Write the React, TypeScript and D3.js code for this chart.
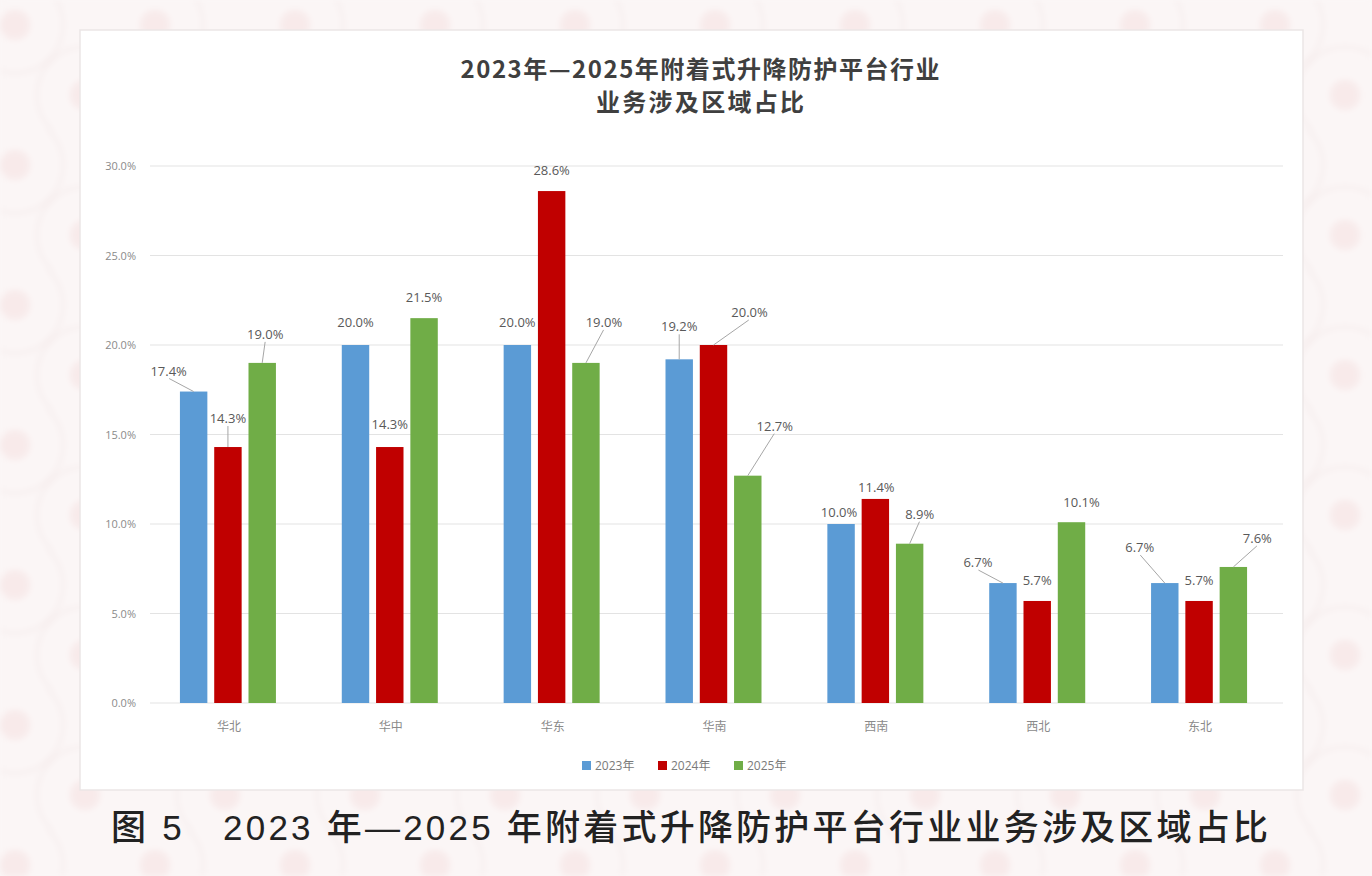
import React from "react";
import * as d3 from "d3";

// regions and yearly shares (%)
const regions = ["华北", "华中", "华东", "华南", "西南", "西北", "东北"];
const years = ["2023年", "2024年", "2025年"];
const share2023 = [17.4, 20.0, 20.0, 19.2, 10.0, 6.7, 6.7];
const share2024 = [14.3, 14.3, 28.6, 20.0, 11.4, 5.7, 5.7];
const share2025 = [19.0, 21.5, 19.0, 12.7, 8.9, 10.1, 7.6];
const yTicks = [0, 5, 10, 15, 20, 25, 30];

const seriesColors = ["#5B9BD5", "#C00000", "#70AD47"];

// hand-placed label offsets (dx, dy) from each bar's top centre, Excel style
const labelOffsets2023 = [[-25, -21], [0, -23], [0, -23], [0, -33], [-2, -12], [-25, -21], [-25, -36]];
const labelOffsets2024 = [[0, -29], [0, -23], [0, -21], [36, -33], [1, -12], [0, -21], [0, -21]];
const labelOffsets2025 = [[3, -29], [0, -21], [18, -41], [27, -50], [10, -30], [10, -20], [24, -29]];

const W = 1372;
const H = 876;
const panel = { x: 80, y: 30, w: 1223, h: 760 };
const plot = { left: 150, right: 1283, top: 166, bottom: 703 };

export default function App() {
  const series = [share2023, share2024, share2025];
  const offsets = [labelOffsets2023, labelOffsets2024, labelOffsets2025];

  const x = d3.scaleBand<string>().domain(regions).range([plot.left, plot.right]).paddingInner(0).paddingOuter(0);
  const inner = d3.scaleBand<string>().domain(years).range([-51, 45]).paddingInner(0.2).paddingOuter(0);
  const y = d3.scaleLinear().domain([0, 30]).range([plot.bottom, plot.top]);

  const fmt = (v: number) => v.toFixed(1) + "%";

  return (
    <svg width={W} height={H} style={{ position: "absolute", left: 0, top: 0 }}>
      <defs>
        <pattern id="bgpat" width="140" height="140" patternUnits="userSpaceOnUse" x="-20" y="-10">
          <rect width="140" height="140" fill="#fbf6f6" />
          <circle cx="35" cy="35" r="48" fill="none" stroke="#f4eaea" strokeWidth="2" />
          <circle cx="35" cy="35" r="15" fill="#f8eaea" />
          <circle cx="105" cy="105" r="48" fill="none" stroke="#f4eaea" strokeWidth="2" />
          <circle cx="105" cy="105" r="15" fill="#f8eaea" />
        </pattern>
        <filter id="soft">
          <feGaussianBlur stdDeviation="3" />
        </filter>
      </defs>

      <rect width={W} height={H} fill="#fbf7f7" />
      <rect width={W} height={H} fill="url(#bgpat)" filter="url(#soft)" />

      <rect x={panel.x} y={panel.y} width={panel.w} height={panel.h} fill="#ffffff" stroke="#ebe6e6" strokeWidth={1.5} />

      <text textAnchor="middle" fontFamily="'Noto Sans CJK SC', sans-serif" fontWeight={700} fontSize={24} fill="#3f3f3f">
        <tspan x={700} y={78} textLength={479}>2023年—2025年附着式升降防护平台行业</tspan>
        <tspan x={700} y={111} textLength={208}>业务涉及区域占比</tspan>
      </text>

      {yTicks.map((t) => (
        <g key={t}>
          <line x1={plot.left} x2={plot.right} y1={y(t)} y2={y(t)} stroke="#e3e3e3" strokeWidth={1.2} />
          <text x={136} y={y(t) + 4} textAnchor="end" fontFamily="'Open Sans', sans-serif" fontSize={11} fill="#8a8a8a">
            {t.toFixed(1) + "%"}
          </text>
        </g>
      ))}

      {regions.map((r, i) => {
        const cx = (x(r) as number) + x.bandwidth() / 2;
        return (
          <g key={r}>
            {series.map((s, k) => {
              const bx = cx + (inner(years[k]) as number);
              const bw = inner.bandwidth();
              const top = y(s[i]);
              const [dx, dy] = offsets[k][i];
              const lx = bx + bw / 2 + dx;
              const ly = top + dy;
              const far = Math.hypot(dx, dy) > 26;
              return (
                <g key={k}>
                  <rect x={bx} y={top} width={bw} height={plot.bottom - top} fill={seriesColors[k]} />
                  {far && (
                    <line x1={lx - dx * 0.02} y1={ly + 8} x2={bx + bw / 2} y2={top} stroke="#a6a6a6" strokeWidth={1} />
                  )}
                  <text x={lx} y={ly + 5} textAnchor="middle" fontFamily="'Open Sans', sans-serif" fontSize={13} fill="#595959">
                    {fmt(s[i])}
                  </text>
                </g>
              );
            })}
            <text x={cx - 2} y={731} textAnchor="middle" fontFamily="'Noto Sans CJK SC', sans-serif" fontSize={12} fill="#8a8a8a">
              {r}
            </text>
          </g>
        );
      })}

      {years.map((yr, k) => {
        const lx = 582 + k * 76;
        return (
          <g key={yr}>
            <rect x={lx} y={761} width={9} height={9} fill={seriesColors[k]} />
            <text x={lx + 13} y={770} fontFamily="'Open Sans', 'Noto Sans CJK SC', sans-serif" fontSize={12} fill="#7a7a7a">
              {yr}
            </text>
          </g>
        );
      })}

      <text x={111} y={840} fontFamily="'Liberation Sans', 'Noto Sans CJK SC', sans-serif" fontWeight={500} fontSize={35} fill="#222222" textLength={1157}>
        图 5　2023 年—2025 年附着式升降防护平台行业业务涉及区域占比
      </text>
    </svg>
  );
}
